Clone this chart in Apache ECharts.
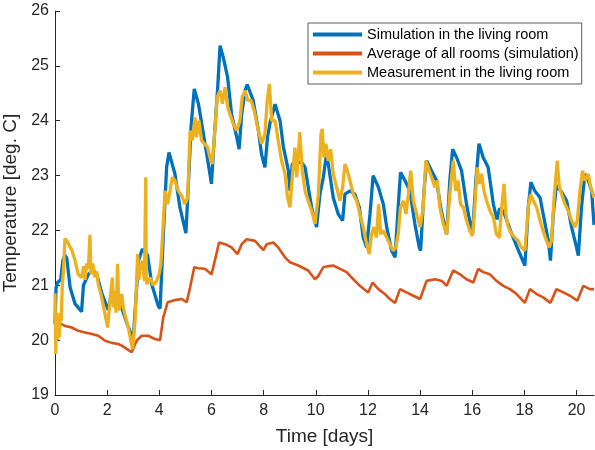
<!DOCTYPE html>
<html>
<head>
<meta charset="utf-8">
<script src="https://cdn.jsdelivr.net/npm/echarts@6/dist/echarts.min.js"></script>
<style>
  html, body { margin: 0; padding: 0; background: #fff; }
  #chart { width: 595px; height: 450px; }
</style>
</head>
<body>
<div id="chart"></div>
<script>
// Living-room temperature: simulation vs. measurement, plus whole-house average
const seriesNames = [
  'Simulation in the living room',
  'Average of all rooms (simulation)',
  'Measurement in the living room'
];

const dayTicks = [0, 2, 4, 6, 8, 10, 12, 14, 16, 18, 20];
const tempTicks = [19, 20, 21, 22, 23, 24, 25, 26];

// Simulated living-room temperature [deg. C] vs time [days]
const simDays = [0, 0.04, 0.1, 0.22, 0.3, 0.38, 0.45, 0.58, 0.77, 1.02, 1.09, 1.28, 1.45, 1.6, 1.8, 2.04, 2.15, 2.35, 2.55, 2.8, 3.0,
  3.2, 3.35, 3.55, 3.71, 3.96, 4.03, 4.15, 4.28, 4.37, 4.6, 4.79, 5.02, 5.11, 5.22, 5.34, 5.5, 5.69, 5.88, 6.0,
  6.11, 6.24, 6.33, 6.45, 6.62, 6.77, 6.97, 7.06, 7.16, 7.29, 7.37, 7.6, 7.8, 7.92, 8.05, 8.15, 8.25, 8.32, 8.44,
  8.63, 8.76, 8.95, 9.01, 9.1, 9.2, 9.46, 9.59, 9.71, 9.84, 10.03, 10.16, 10.29, 10.4, 10.48, 10.67, 10.86, 11.03,
  11.12, 11.31, 11.5, 11.67, 11.82, 11.95, 12.08, 12.2, 12.4, 12.59, 12.72, 12.91, 13.04, 13.16, 13.25, 13.42,
  13.61, 13.8, 13.97, 14.02, 14.15, 14.25, 14.44, 14.63, 14.79, 14.95, 15.02, 15.14, 15.25, 15.4, 15.59, 15.78,
  15.98, 16.01, 16.14, 16.26, 16.42, 16.61, 16.81, 16.95, 17.05, 17.2, 17.5, 17.83, 18.02, 18.15, 18.25, 18.4,
  18.6, 18.72, 18.92, 19.0, 19.11, 19.23, 19.43, 19.62, 19.81, 20.0, 20.07, 20.19, 20.32, 20.45, 20.58, 20.67];
const simTemp = [20.3, 20.95, 21.05, 21.1, 21.45, 21.55, 21.5, 20.96, 20.66, 20.52, 21.0, 21.2, 21.28, 21.2, 20.85, 20.55, 20.8, 20.85, 20.6, 20.25, 20.02,
  21.45, 21.66, 21.55, 21.02, 20.62, 20.58, 21.87, 23.15, 23.42, 23.03, 22.42, 21.95, 22.79, 23.9, 24.58, 24.31, 23.76, 23.21, 22.85,
  23.7, 24.61, 25.37, 25.16, 24.79, 24.12, 23.7, 23.48, 24.12, 24.55, 24.66, 24.37, 23.82, 23.39, 23.15, 23.7, 23.97, 23.98, 24.3,
  24.0, 23.52, 23.09, 22.72, 23.21, 23.24, 23.24, 23.15, 22.79, 22.42, 22.06, 22.66, 22.97, 23.35, 23.21, 22.6, 22.3, 22.18,
  22.66, 22.72, 22.66, 22.42, 21.87, 21.69, 22.3, 23.0, 22.79, 22.48, 22.06, 21.63, 21.51, 22.42, 23.06, 22.91,
  22.72, 22.12, 21.69, 21.63, 22.72, 23.27, 23.09, 22.91, 22.42, 22.06, 21.93, 22.91, 23.48, 23.33, 23.09, 22.48,
  21.99, 21.93, 22.91, 23.58, 23.33, 23.15, 22.48, 22.2, 22.4, 22.35, 21.95, 21.57, 21.36, 22.42, 22.88, 22.72,
  22.6, 22.3, 21.81, 21.45, 22.3, 22.82, 22.7, 22.54, 22.06, 21.69, 21.54, 22.42, 23.03, 22.91, 22.72, 22.1];

// Simulated average over all rooms
const avgDays = [0, 0.13, 0.38, 0.64, 0.89, 1.15, 1.41, 1.66, 1.92, 2.17, 2.43, 2.56, 2.75, 2.94, 3.0, 3.13, 3.32, 3.58, 3.83, 4.03,
  4.15, 4.32, 4.6, 4.86, 5.05, 5.18, 5.34, 5.5, 5.75, 6.0, 6.13, 6.29, 6.52, 6.77, 7.0, 7.16, 7.35, 7.67, 7.99, 8.12,
  8.37, 8.56, 8.82, 9.01, 9.33, 9.71, 9.97, 10.1, 10.29, 10.5, 10.67, 10.93, 11.18, 11.44, 11.69, 12.01, 12.18, 12.4,
  12.65, 12.84, 13.04, 13.23, 13.48, 13.74, 14.0, 14.25, 14.57, 14.83, 15.02, 15.27, 15.53, 15.78, 16.04, 16.23, 16.42,
  16.68, 16.93, 17.19, 17.45, 17.7, 18.02, 18.21, 18.47, 18.72, 19.0, 19.23, 19.49, 19.75, 20.03, 20.26, 20.51, 20.67];
const avgTemp = [20.4, 20.32, 20.26, 20.23, 20.17, 20.14, 20.11, 20.08, 19.99, 19.95, 19.93, 19.9, 19.84, 19.78, 19.8, 19.99, 20.08, 20.08, 20.02, 20.0,
  20.41, 20.69, 20.73, 20.75, 20.69, 20.96, 21.33, 21.31, 21.3, 21.2, 21.45, 21.78, 21.75, 21.69, 21.57, 21.75, 21.84, 21.81, 21.64, 21.75,
  21.78, 21.69, 21.51, 21.42, 21.36, 21.27, 21.11, 21.17, 21.33, 21.35, 21.36, 21.3, 21.24, 21.11, 20.99, 20.87, 21.05, 20.93,
  20.84, 20.75, 20.68, 20.93, 20.87, 20.81, 20.75, 21.08, 21.11, 21.08, 20.99, 21.27, 21.2, 21.11, 21.05, 21.3, 21.24,
  21.2, 21.08, 20.99, 20.93, 20.84, 20.68, 20.93, 20.84, 20.78, 20.68, 20.93, 20.87, 20.81, 20.72, 20.99, 20.93, 20.93];

// Measured living-room temperature
const measDays = [0, 0.03, 0.06, 0.09, 0.12, 0.16, 0.2, 0.24, 0.28, 0.33, 0.38, 0.45, 0.55, 0.64, 0.77, 0.89, 1.02, 1.1, 1.15, 1.22,
  1.28, 1.34, 1.38, 1.45, 1.52, 1.6, 1.66, 1.79, 1.92, 2.02, 2.11, 2.2, 2.24, 2.28, 2.34, 2.4, 2.45, 2.56, 2.62, 2.68,
  2.81, 2.97, 3.07, 3.17, 3.22, 3.26, 3.35, 3.43, 3.48, 3.5, 3.53, 3.64, 3.77, 3.9, 3.99, 4.06, 4.12, 4.22, 4.32, 4.41,
  4.5, 4.6, 4.73, 4.86, 4.98, 5.09, 5.18, 5.27, 5.37, 5.43, 5.52, 5.62, 5.73, 5.85, 5.94, 6.03, 6.13, 6.22, 6.33, 6.42,
  6.52, 6.62, 6.71, 6.84, 6.97, 7.09, 7.18, 7.29, 7.39, 7.52, 7.64, 7.8, 7.92, 8.05, 8.14, 8.22, 8.31, 8.44, 8.56, 8.69,
  8.82, 8.92, 9.01, 9.1, 9.2, 9.27, 9.39, 9.48, 9.59, 9.71, 9.84, 9.97, 10.1, 10.2, 10.25, 10.31, 10.39, 10.48, 10.57, 10.67,
  10.8, 10.93, 11.03, 11.12, 11.21, 11.31, 11.44, 11.57, 11.69, 11.82, 11.95, 12.05, 12.14, 12.23, 12.33, 12.41, 12.49, 12.59, 12.72, 12.84,
  12.97, 13.07, 13.16, 13.25, 13.36, 13.46, 13.55, 13.64, 13.74, 13.87, 14.0, 14.12, 14.22, 14.31, 14.44, 14.57, 14.66, 14.76, 14.89, 15.02,
  15.14, 15.27, 15.37, 15.46, 15.55, 15.66, 15.78, 15.91, 16.01, 16.1, 16.19, 16.27, 16.36, 16.45, 16.55, 16.68, 16.81, 16.93, 17.04, 17.13,
  17.22, 17.29, 17.38, 17.51, 17.64, 17.76, 17.89, 18.02, 18.15, 18.24, 18.34, 18.47, 18.6, 18.72, 18.85, 18.95, 19.04, 19.14, 19.26, 19.34,
  19.43, 19.55, 19.68, 19.81, 19.94, 20.03, 20.13, 20.23, 20.32, 20.45, 20.54, 20.64, 20.67];
const measTemp = [20.85, 19.75, 20.5, 20.0, 20.45, 20.05, 20.5, 20.35, 21.0, 21.3, 21.85, 21.81, 21.72, 21.65, 21.45, 21.2, 21.14, 21.35, 21.1, 21.4,
  21.3, 21.92, 21.2, 21.4, 21.15, 21.25, 21.02, 20.78, 20.47, 20.23, 20.72, 21.14, 20.6, 20.9, 20.5, 21.39, 20.54, 20.84, 20.6, 20.47,
  20.23, 19.84, 20.35, 21.57, 21.1, 21.3, 21.45, 21.08, 22.97, 21.1, 21.02, 21.14, 21.0, 21.08, 21.2, 21.39, 21.87, 22.72, 22.48, 22.72,
  22.97, 22.91, 22.72, 22.63, 22.48, 22.6, 23.82, 23.64, 24.06, 23.7, 24.0, 23.64, 23.58, 23.52, 23.33, 23.21, 23.82, 24.43, 24.55, 24.31,
  24.61, 24.25, 24.12, 23.94, 23.82, 24.0, 24.43, 24.55, 24.37, 24.37, 24.18, 23.82, 23.58, 23.76, 24.37, 24.67, 24.0, 24.0, 23.64, 23.27,
  23.03, 22.6, 22.42, 22.97, 23.51, 22.97, 23.79, 23.09, 22.72, 22.54, 22.36, 22.12, 22.66, 23.76, 23.85, 23.33, 23.58, 23.27, 23.48, 23.03,
  22.79, 22.54, 22.79, 23.21, 23.09, 22.91, 22.66, 22.54, 22.3, 22.06, 21.75, 21.57, 21.93, 22.06, 21.87, 22.48, 21.93, 22.0, 21.87, 21.75,
  21.63, 21.69, 21.93, 22.42, 22.54, 22.3, 22.66, 23.09, 22.54, 22.3, 22.06, 22.42, 23.27, 23.15, 22.97, 22.79, 22.91, 22.42, 22.12, 21.93,
  22.66, 23.27, 22.72, 22.91, 22.48, 22.42, 22.18, 21.99, 21.9, 22.42, 23.15, 22.85, 23.03, 22.72, 22.54, 22.36, 22.24, 21.93, 21.87, 22.42,
  22.85, 22.3, 22.06, 21.93, 21.87, 21.81, 21.69, 21.63, 22.42, 22.66, 22.54, 22.42, 22.18, 21.99, 21.81, 21.69, 21.81, 22.6, 23.27, 22.79,
  22.66, 22.48, 22.36, 22.18, 22.06, 22.18, 22.72, 23.09, 22.91, 23.03, 22.79, 22.66, 22.6];

const colors = ['#0072BD', '#D95319', '#EDB120'];
const axisColor = '#262626';
const fontFamily = '"Liberation Sans", Arial, Helvetica, sans-serif';

function pairs(xs, ys) {
  return xs.map((x, i) => [x, ys[i]]);
}

const chart = echarts.init(document.getElementById('chart'), null, { renderer: 'canvas' });

chart.setOption({
  animation: false,
  backgroundColor: '#ffffff',
  textStyle: { fontFamily: fontFamily },
  grid: { left: 55, right: 1, top: 11, bottom: 55, containLabel: false, outerBoundsMode: 'none' },
  legend: {
    left: 308,
    top: 23,
    orient: 'vertical',
    icon: 'rect',
    itemWidth: 49,
    itemHeight: 4,
    itemGap: 4,
    padding: [4, 3, 4, 5],
    backgroundColor: '#ffffff',
    borderColor: '#5a5a5a',
    borderWidth: 1,
    borderRadius: 0,
    textStyle: { fontSize: 14.5, color: '#000000', fontFamily: fontFamily, padding: [0, 0, 0, 0] },
    data: seriesNames
  },
  xAxis: {
    type: 'value',
    min: 0,
    max: 20.67,
    interval: 2,
    name: 'Time [days]',
    nameLocation: 'middle',
    nameGap: 32,
    nameTextStyle: { fontSize: 19, color: axisColor, fontFamily: fontFamily },
    axisLine: { show: true, lineStyle: { color: axisColor, width: 1 } },
    axisTick: { show: true, inside: true, length: 5, lineStyle: { color: axisColor }, customValues: dayTicks },
    axisLabel: { fontSize: 16, color: axisColor, margin: 8, customValues: dayTicks },
    splitLine: { show: false }
  },
  yAxis: {
    type: 'value',
    min: 19,
    max: 26,
    interval: 1,
    name: 'Temperature [deg. C]',
    nameLocation: 'middle',
    nameGap: 27,
    nameTextStyle: { fontSize: 19, color: axisColor, fontFamily: fontFamily },
    axisLine: { show: true, lineStyle: { color: axisColor, width: 1 } },
    axisTick: { show: true, inside: true, length: 5, lineStyle: { color: axisColor }, customValues: tempTicks },
    axisLabel: { fontSize: 16, color: axisColor, margin: 6, customValues: tempTicks },
    splitLine: { show: false }
  },
  series: [
    {
      name: seriesNames[0], type: 'line', data: pairs(simDays, simTemp),
      symbol: 'none', lineStyle: { color: colors[0], width: 3.3 }, itemStyle: { color: colors[0] }, z: 2
    },
    {
      name: seriesNames[1], type: 'line', data: pairs(avgDays, avgTemp),
      symbol: 'none', lineStyle: { color: colors[1], width: 2.6 }, itemStyle: { color: colors[1] }, z: 3
    },
    {
      name: seriesNames[2], type: 'line', data: pairs(measDays, measTemp),
      symbol: 'none', lineStyle: { color: colors[2], width: 3.3 }, itemStyle: { color: colors[2] }, z: 4
    }
  ]
});
</script>
</body>
</html>
